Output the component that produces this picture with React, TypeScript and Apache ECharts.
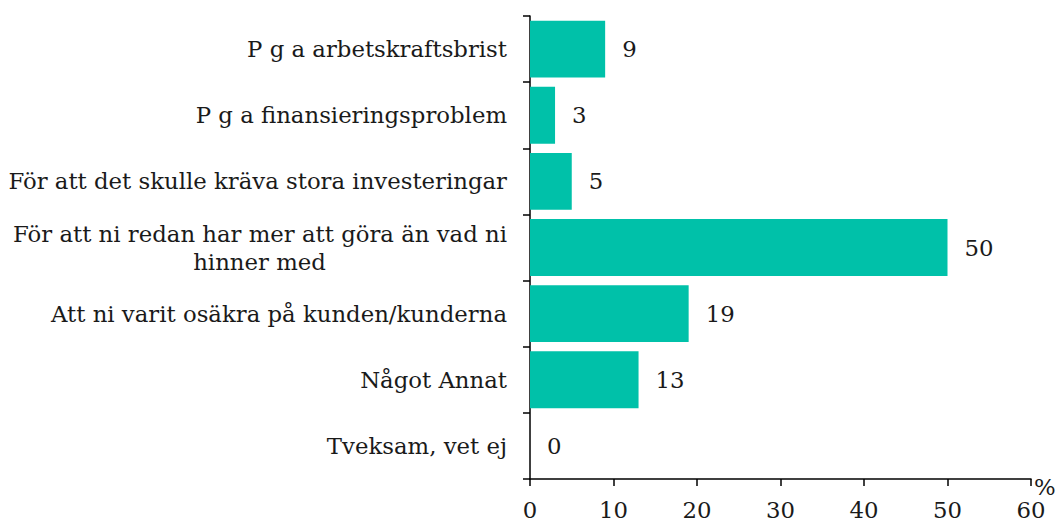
import React, { useEffect, useRef } from "react";
import * as echarts from "echarts";

const categories = [
  "P g a arbetskraftsbrist",
  "P g a finansieringsproblem",
  "För att det skulle kräva stora investeringar",
  "För att ni redan har mer att göra än vad ni\nhinner med",
  "Att ni varit osäkra på kunden/kunderna",
  "Något Annat",
  "Tveksam, vet ej",
];
const values = [9, 3, 5, 50, 19, 13, 0];
const xTicks = [0, 10, 20, 30, 40, 50, 60];

const FONT = "'DejaVu Serif', Georgia, serif";
const FS = 22.8;
const TXT = "#1a1a1a";

function measure(t: string): number {
  const c = document.createElement("canvas").getContext("2d");
  if (!c) return t.length * 10;
  c.font = `${FS}px ${FONT}`;
  return c.measureText(t).width;
}

export default function App() {
  const ref = useRef<HTMLDivElement>(null);
  useEffect(() => {
    if (!ref.current) return;
    document.body.style.margin = "0";
    document.body.style.overflow = "hidden";
    const chart = echarts.init(ref.current, undefined, { renderer: "svg" });
    chart.setOption({
      animation: false,
      grid: {
        left: 530,
        right: 25,
        top: 16,
        bottom: 45,
        containLabel: false,
        outerBoundsMode: "none",
      },
      xAxis: {
        type: "value",
        min: xTicks[0],
        max: xTicks[xTicks.length - 1],
        interval: 10,
        name: "%",
        nameLocation: "end",
        nameGap: 3,
        nameTextStyle: {
          fontFamily: FONT,
          fontSize: FS,
          color: TXT,
          verticalAlign: "top",
          padding: [-4, 0, 0, 0],
        },
        axisLine: { show: true, lineStyle: { color: "#000", width: 1.5 } },
        axisTick: { show: true, length: 7, lineStyle: { color: "#000", width: 1.5 } },
        splitLine: { show: false },
        axisLabel: { fontFamily: FONT, fontSize: FS, color: TXT, margin: 19 },
      },
      yAxis: {
        type: "category",
        inverse: true,
        data: categories,
        axisLine: { show: true, lineStyle: { color: "#000", width: 1.5 } },
        axisTick: { show: true, length: 7, lineStyle: { color: "#000", width: 1.5 } },
        axisLabel: {
          fontFamily: FONT,
          fontSize: FS,
          color: TXT,
          margin: 23,
          lineHeight: 28,
          formatter: (v: string) => {
            const lines = v.split("\n");
            if (lines.length < 2) return v;
            return lines.map((l, i) => (i === 0 ? `{a|${l}}` : `{b|${l}}`)).join("\n");
          },
          rich: {
            a: { fontFamily: FONT, fontSize: FS, color: TXT, lineHeight: 28, align: "right" },
            b: {
              fontFamily: FONT,
              fontSize: FS,
              color: TXT,
              lineHeight: 28,
              align: "center",
              width: Math.ceil(measure(categories[3].split("\n")[0])),
            },
          },
        },
      },
      series: [
        {
          type: "bar",
          data: values,
          barCategoryGap: "14%",
          itemStyle: { color: "#00C1A9" },
          label: {
            show: true,
            position: "right",
            distance: 17,
            fontFamily: FONT,
            fontSize: FS,
            color: TXT,
          },
        },
      ],
    });
    return () => chart.dispose();
  }, []);
  return <div ref={ref} style={{ width: 1056, height: 524 }} />;
}
